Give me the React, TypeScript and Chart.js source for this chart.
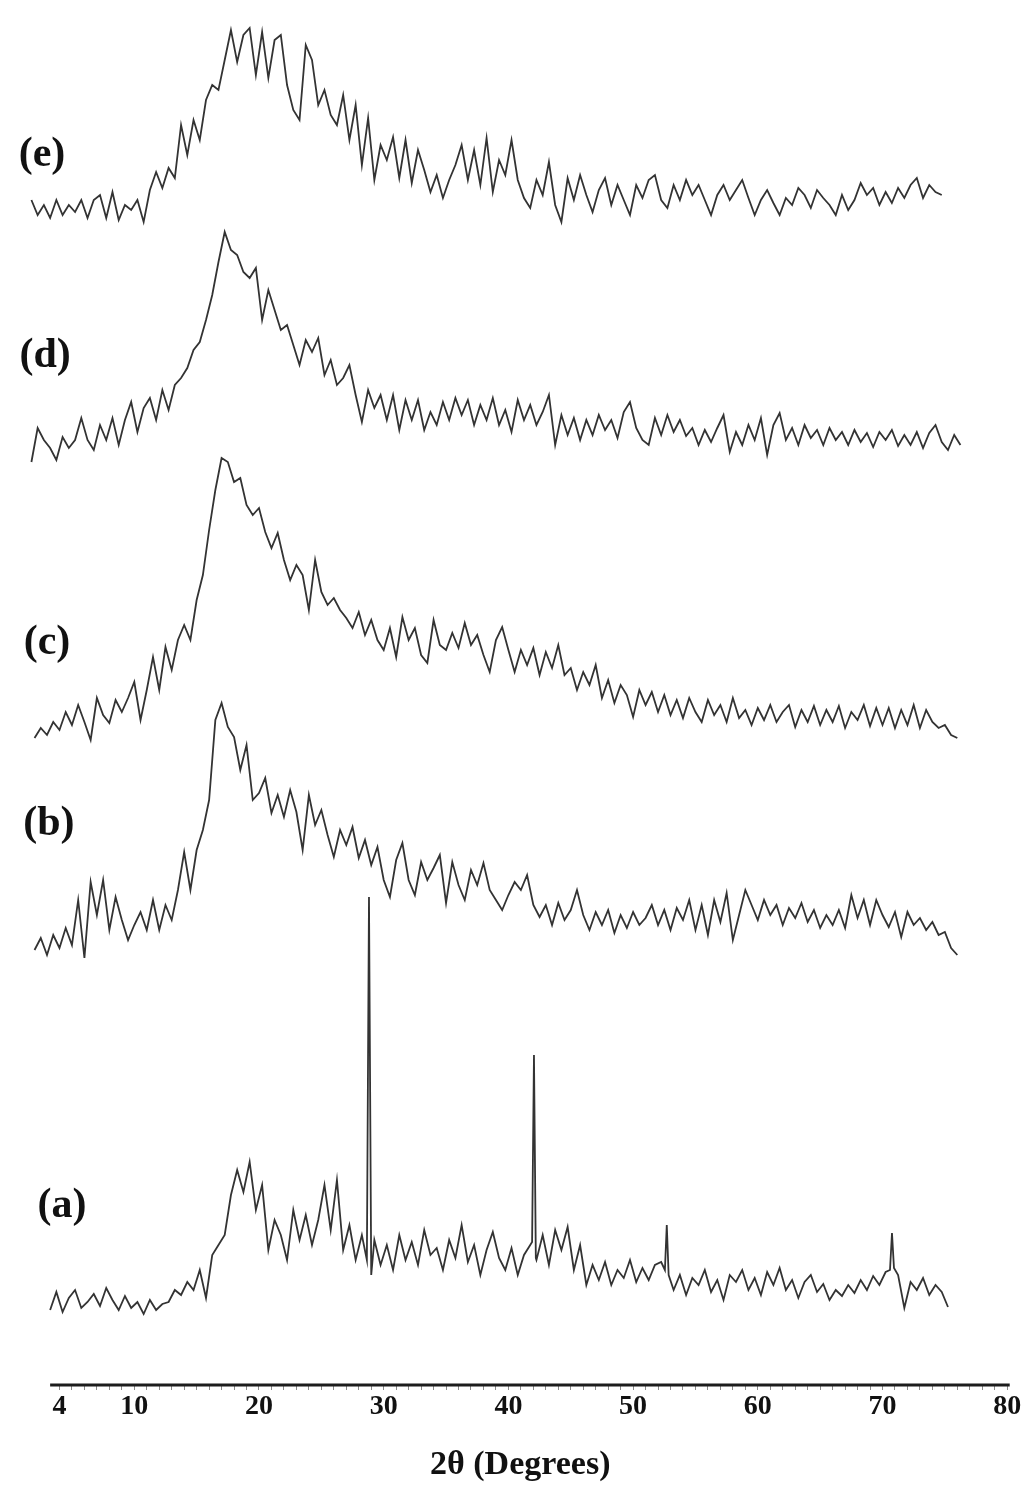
import { useEffect, useRef } from 'react';
import { Chart, registerables } from 'chart.js';

Chart.register(...registerables);

// ---- axis ----
const tickLabels = [4, 10, 20, 30, 40, 50, 60, 70, 80];
const minorTickFirst = 4;
const minorTickLast = 80;
const xMin = 1.5;
const xMax = 80.4;
const axisLineStart = 3.25;
const axisLineEnd = 80.2;

// ---- series ----
const seriesNames = ['(a)', '(b)', '(c)', '(d)', '(e)'];
const seriesOffsets = [65, 420, 635, 920, 1155];
const seriesStart = [3.25, 2.0, 2.0, 1.75, 1.75];
const angleStep = 0.5;

const aValues = [
  10, 28, 8, 22, 30, 12, 18, 26, 14, 32, 20, 10, 24, 12, 18, 6, 20, 10, 16,
  18, 30, 25, 38, 30, 50, 22,
  65, 75, 85, 125, 150, 128, 158, 110, 135, 70, 100, 85, 60, 110, 80, 105, 75, 100, 135, 90, 140, 70, 95, 60, 85, 55,
  80, 55, 75, 50, 85, 60, 78, 55, 90, 65, 72, 50, 80, 62, 95, 58, 75, 45, 70, 88, 62, 50, 72, 45, 65, 75,
  60, 85, 55, 90, 70, 93, 50, 75, 35, 55, 40, 58, 35, 50, 42, 60, 38, 52, 40, 55, 58, 50,
  30, 45, 25, 42, 35, 50, 28, 40, 20, 45, 38, 50, 30, 42, 25, 48, 35, 52, 30, 40, 22, 38, 45, 28, 36, 20, 30, 24, 35, 27, 40, 30, 44, 35, 48, 45,
  45, 12, 38, 30, 42, 25, 35, 28, 13,
];
const aPeakAngles = [28.65, 28.82, 29.0, 41.9, 42.05, 42.2, 52.55, 52.7, 52.85, 70.6, 70.76, 70.92];
const aPeakValues = [60, 423, 45, 78, 265, 62, 50, 95, 45, 50, 87, 52];

const bValues = [
  15, 27, 10, 30, 17, 37, 20, 65, 7,
  83, 50, 85, 35, 68, 45, 25, 40,
  53, 35, 65, 35, 60, 45, 75, 113,
  75, 115, 135, 165, 245, 262, 238, 228,
  195, 220, 165, 172, 187, 152, 170, 148,
  175, 153, 115, 170, 140, 155, 130, 108,
  135, 120, 138, 107, 125, 100, 118, 85,
  68, 105, 122, 85, 70, 103, 85, 97,
  110, 62, 103, 80, 65, 95, 80, 102,
  75, 65, 55, 70, 83, 75, 90, 60,
  48, 60, 40, 62, 45, 55, 75, 50,
  35, 53, 40, 55, 32, 50, 37, 53,
  40, 47, 60, 40, 55, 35, 57, 45,
  65, 35, 60, 30, 65, 43, 72, 25,
  50, 75, 60, 45, 65, 50, 60, 40,
  57, 47, 62, 43, 55, 37, 50, 40,
  55, 37, 70, 47, 65, 40, 65, 50,
  38, 53, 28, 53, 40, 47, 35, 43,
  30, 33, 17, 10,
];

const cValues = [
  12, 22, 15, 28, 20, 38, 25, 45, 28,
  10, 52, 35, 27, 50, 38, 52, 68,
  30, 60, 93, 60, 103, 80, 110, 125,
  110, 150, 175, 220, 260, 292, 288, 268,
  272, 245, 235, 242, 218, 202, 217, 190,
  170, 185, 175, 140, 190, 158, 145, 152,
  140, 132, 122, 138, 115, 130, 110, 100,
  122, 93, 133, 110, 122, 95, 87, 130,
  105, 100, 117, 102, 127, 105, 115, 95,
  78, 110, 123, 100, 78, 100, 85, 102,
  75, 98, 82, 105, 75, 82, 60, 78,
  65, 85, 52, 70, 47, 65, 55, 33,
  60, 45, 58, 38, 55, 35, 50, 32,
  52, 38, 28, 50, 35, 45, 28, 52,
  32, 40, 25, 42, 30, 45, 28, 38,
  45, 23, 40, 28, 44, 25, 40, 28,
  44, 22, 38, 30, 45, 24, 42, 25,
  42, 22, 40, 25, 45, 22, 40, 28,
  22, 25, 15, 12,
];

const dValues = [
  3, 37, 25, 17, 5, 28, 17, 25, 47,
  25, 15, 40, 25, 47, 20, 45, 63,
  33, 57, 67, 45, 75, 55, 80, 87,
  97, 115, 123, 145, 170, 203, 233, 215,
  210, 193, 187, 197, 145, 175, 155, 135,
  140, 120, 100, 125, 113, 127, 90, 105,
  80, 87, 100, 70, 43, 75, 57, 70,
  45, 70, 35, 65, 45, 65, 35, 53,
  40, 63, 45, 67, 50, 65, 40, 60,
  45, 67, 40, 55, 33, 65, 45, 60,
  40, 53, 70, 20, 50, 30, 47, 25,
  45, 30, 50, 35, 45, 27, 53, 63,
  37, 25, 20, 47, 30, 50, 33, 45,
  29, 37, 20, 35, 23, 37, 50, 13,
  33, 20, 40, 25, 47, 10, 40, 52,
  25, 37, 20, 40, 27, 35, 20, 37,
  25, 33, 20, 35, 23, 32, 18, 33,
  25, 35, 19, 30, 20, 33, 17, 32,
  40, 23, 15, 30, 20,
];

const eValues = [
  30, 15, 25, 12, 30, 15, 25, 18, 30,
  12, 30, 35, 12, 38, 10, 25, 20,
  30, 8, 40, 58, 42, 62, 52, 105,
  75, 110, 90, 130, 145, 140, 170, 200,
  168, 195, 202, 155, 198, 152, 190, 195,
  145, 120, 110, 185, 170, 125, 140, 115,
  105, 135, 90, 125, 65, 112, 50, 85,
  70, 93, 52, 90, 47, 80, 60, 38,
  55, 32, 50, 65, 85, 50, 80, 45,
  92, 38, 70, 55, 90, 50, 32, 22,
  50, 35, 68, 25, 8, 52, 30, 55,
  35, 18, 40, 52, 25, 45, 30, 15,
  45, 32, 50, 55, 30, 22, 45, 30,
  50, 35, 45, 30, 15, 35, 45, 30,
  40, 50, 32, 15, 30, 40, 27, 15,
  32, 25, 42, 35, 22, 40, 32, 25,
  15, 35, 20, 30, 47, 35, 42, 25,
  38, 27, 42, 32, 45, 52, 32, 45,
  38, 35,
];

// ---- curve labels ----
const labelAngles = [4.2, 3.15, 3.0, 2.85, 2.6];
const labelLevels = [179, 561, 742, 1029, 1230];

const allValues = [aValues, bValues, cValues, dValues, eValues];

function buildPoints(idx: number) {
  const start = seriesStart[idx];
  const offset = seriesOffsets[idx];
  let pts = allValues[idx].map((v, i) => ({ x: start + i * angleStep, y: v + offset }));
  if (idx === 0) {
    const ranges: [number, number][] = [];
    for (let k = 0; k < aPeakAngles.length; k += 3) ranges.push([aPeakAngles[k], aPeakAngles[k + 2]]);
    pts = pts.filter((p) => !ranges.some(([lo, hi]) => p.x >= lo && p.x <= hi));
    aPeakAngles.forEach((ang, k) => pts.push({ x: ang, y: aPeakValues[k] + offset }));
    pts.sort((p, q) => p.x - q.x);
  }
  return pts;
}

const decorPlugin = {
  id: 'decor',
  afterDraw(chart: any) {
    const { ctx } = chart;
    const x = chart.scales.x;
    const y = chart.scales.y;
    ctx.save();
    ctx.strokeStyle = '#1c1c1c';
    ctx.lineWidth = 3;
    ctx.beginPath();
    const yb = y.getPixelForValue(0);
    ctx.moveTo(x.getPixelForValue(axisLineStart), yb);
    ctx.lineTo(x.getPixelForValue(axisLineEnd), yb);
    ctx.stroke();
    ctx.fillStyle = '#111';
    ctx.font = 'bold 42px "Liberation Serif", "Times New Roman", serif';
    ctx.textAlign = 'center';
    ctx.textBaseline = 'middle';
    seriesNames.forEach((name, i) => {
      ctx.fillText(name, x.getPixelForValue(labelAngles[i]), y.getPixelForValue(labelLevels[i]));
    });
    ctx.restore();
  },
};

export default function App() {
  const ref = useRef<HTMLCanvasElement | null>(null);
  useEffect(() => {
    if (!ref.current) return;
    const chart = new Chart(ref.current, {
      type: 'line',
      data: {
        datasets: seriesNames.map((name, i) => ({
          label: name,
          data: buildPoints(i),
          borderColor: '#333333',
          borderWidth: 1.8,
          pointRadius: 0,
          tension: 0,
          fill: false,
        })),
      },
      options: {
        responsive: false,
        animation: false,
        layout: { padding: { left: 28.3, right: 11.8, top: 10, bottom: 14.6 } },
        plugins: { legend: { display: false }, tooltip: { enabled: false } },
        scales: {
          x: {
            type: 'linear',
            min: xMin,
            max: xMax,
            afterBuildTicks: (scale: any) => {
              const t = [];
              for (let v = minorTickFirst; v <= minorTickLast; v++) t.push({ value: v });
              scale.ticks = t;
            },
            ticks: {
              autoSkip: false,
              maxRotation: 0,
              minRotation: 0,
              padding: 0,
              color: '#111',
              font: { family: '"Liberation Serif", "Times New Roman", serif', weight: 'bold', size: 28 },
              callback: (value: any) => (tickLabels.includes(Number(value)) ? String(value) : ''),
            },
            grid: { display: true, drawOnChartArea: false, drawTicks: true, tickLength: 5, color: '#8a8a8a' },
            border: { display: false },
            title: {
              display: true,
              text: '2θ (Degrees)',
              color: '#111',
              font: { family: '"Liberation Serif", "Times New Roman", serif', weight: 'bold', size: 34 },
              padding: { top: 21, bottom: 0 },
            },
          },
          y: { display: false, min: 0, max: 1375 },
        },
      },
      plugins: [decorPlugin],
    });
    return () => chart.destroy();
  }, []);
  return (
    <div style={{ position: 'absolute', left: 0, top: 0, width: 1024, height: 1500, background: '#fff' }}>
      <canvas ref={ref} width={1024} height={1500} style={{ display: 'block' }} />
    </div>
  );
}
